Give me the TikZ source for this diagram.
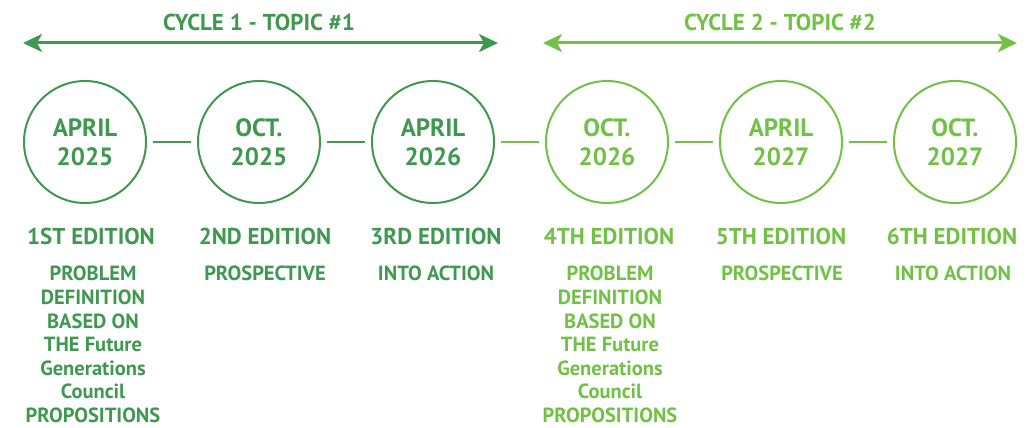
\documentclass[tikz,border=0pt]{standalone}
\usepackage{fontspec}
\setmainfont{PT Sans}
\usetikzlibrary{arrows.meta}
\definecolor{gdark}{RGB}{64,152,80}
\definecolor{glight}{RGB}{112,193,69}
\tikzset{
  datecircle/.style={circle, draw, line width=2pt, minimum size=122pt, inner sep=0pt, align=center, font=\fontsize{25}{29}\selectfont\bfseries},
  edition/.style={anchor=base, inner sep=0pt, font=\fontsize{23}{27}\selectfont\bfseries},
  desc/.style={anchor=north, inner sep=0pt, align=center, font=\fontsize{20.5}{23.6}\selectfont\bfseries},
  title/.style={inner sep=0pt, font=\fontsize{23}{27}\selectfont\bfseries},
  link/.style={line width=2pt, shorten <=6pt, shorten >=6pt},
  span/.style={line width=3pt, {Stealth[length=19pt,width=18pt,inset=5pt]}-{Stealth[length=19pt,width=18pt,inset=5pt]}}
}
\begin{document}
\begin{tikzpicture}[x=1pt,y=-1pt]
\useasboundingbox (0,0) rectangle (1033,428);
% titles and arrows
\node[title, text=gdark] (t1) at (259,22) {CYCLE 1 - TOPIC \#1};
\node[title, text=glight] (t2) at (780,22) {CYCLE 2 - TOPIC \#2};
\coordinate (a1) at (23,43);
\coordinate (b1) at (498,43);
\coordinate (a2) at (543,43);
\coordinate (b2) at (1017,43);
\draw[span, gdark] (a1) -- (b1);
\draw[span, glight] (a2) -- (b2);
% circles
\node[datecircle, draw=gdark, text=gdark] (c1) at (85,142) {APRIL\\2025};
\node[datecircle, draw=gdark, text=gdark] (c2) at (259,142) {OCT.\\2025};
\node[datecircle, draw=gdark, text=gdark] (c3) at (433,142) {APRIL\\2026};
\node[datecircle, draw=glight, text=glight] (c4) at (607,142) {OCT.\\2026};
\node[datecircle, draw=glight, text=glight] (c5) at (781,142) {APRIL\\2027};
\node[datecircle, draw=glight, text=glight] (c6) at (955,142) {OCT.\\2027};
\draw[link, gdark] (c1) -- (c2);
\draw[link, gdark] (c2) -- (c3);
\draw[link, glight] (c3) -- (c4);
\draw[link, glight] (c4) -- (c5);
\draw[link, glight] (c5) -- (c6);
% editions
\node[edition, text=gdark] (e1) at (91,244) {1ST EDITION};
\node[edition, text=gdark] (e2) at (265,244) {2ND EDITION};
\node[edition, text=gdark] (e3) at (436,244) {3RD EDITION};
\node[edition, text=glight] (e4) at (609,244) {4TH EDITION};
\node[edition, text=glight] (e5) at (781,244) {5TH EDITION};
\node[edition, text=glight] (e6) at (952,244) {6TH EDITION};
% descriptions
\node[desc, text=gdark] (d1) at (93,266) {PROBLEM\\DEFINITION\\BASED ON\\THE Future\\Generations\\Council\\PROPOSITIONS};
\node[desc, text=gdark] (d2) at (265,266) {PROSPECTIVE};
\node[desc, text=gdark] (d3) at (436,266) {INTO ACTION};
\node[desc, text=glight] (d4) at (610,266) {PROBLEM\\DEFINITION\\BASED ON\\THE Future\\Generations\\Council\\PROPOSITIONS};
\node[desc, text=glight] (d5) at (782,266) {PROSPECTIVE};
\node[desc, text=glight] (d6) at (953,266) {INTO ACTION};
\end{tikzpicture}
\end{document}
